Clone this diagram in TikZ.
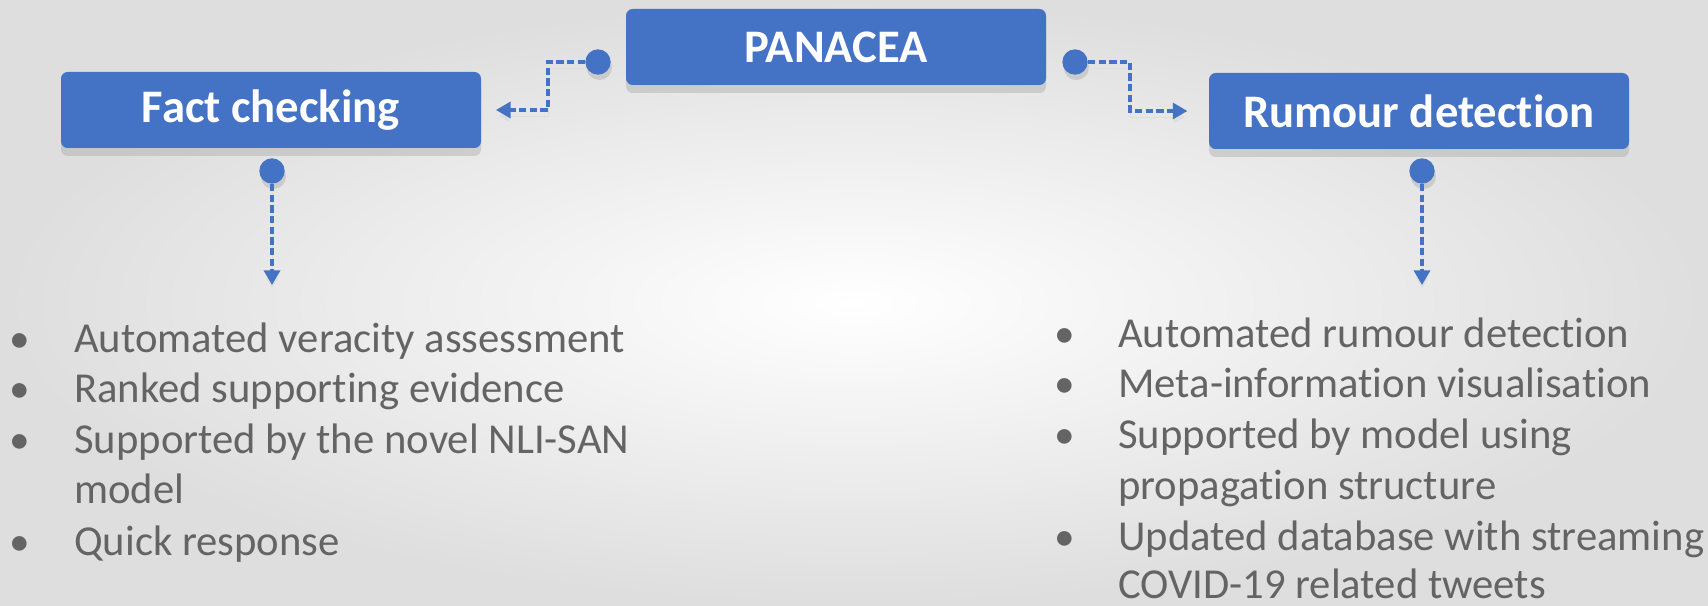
\documentclass[tikz,border=0pt]{standalone}
\usepackage{fontspec}
\setmainfont{Carlito}[Ligatures=NoCommon]
\usetikzlibrary{arrows.meta,shadows}
\definecolor{boxblue}{HTML}{4472C4}
\definecolor{txtgrey}{HTML}{646464}

\begin{document}
\begin{tikzpicture}[x=0.75pt,y=-0.75pt,
  box/.style={fill=boxblue,rounded corners=5pt,minimum width=315pt,minimum height=57pt,inner sep=0pt,
    text=white,font=\bfseries\fontsize{35}{40}\selectfont,
    drop shadow={shadow xshift=0pt,shadow yshift=-6pt,fill=black!30,opacity=.5}},
  dot/.style={circle,fill=boxblue,inner sep=0pt,minimum size=19pt,
    drop shadow={shadow xshift=1pt,shadow yshift=-4pt,fill=black!30,opacity=.5}},
  link/.style={draw=boxblue,line width=2.6pt,dash pattern=on 5.5pt off 2.5pt,
    -{Triangle[length=11pt,width=12pt]},
    preaction={draw=black!13,transform canvas={yshift=-4.5pt}}},
  item/.style={anchor=base west,text=txtgrey,inner sep=0pt,font=\fontsize{32}{38}\selectfont},
  bul/.style={anchor=base,text=txtgrey,inner sep=0pt,font=\fontsize{31}{36}\selectfont}]

\useasboundingbox (0,0) rectangle (1708,606);
\fill[inner color=white,outer color=black!13] (0,0) rectangle (1708,606);

  \node[box] (pan) at (836,47) {PANACEA};
  \node[box] (fact) at (271,110) {Fact checking};
  \node[box] (rum) at (1419,111) {Rumour detection};
  \node[dot] (pl) at (598,62) {};
  \node[dot] (pr) at (1075,62) {};
  \node[dot] (fd) at (272,171) {};
  \node[dot] (rd) at (1422,171) {};
  \coordinate (lk) at (548,62);
  \coordinate (rk) at (1130,62);
  \coordinate (fe) at (272,285);
  \coordinate (re) at (1422,285);
  \draw[link,shorten >=11pt] (pl) -- (lk) |- (fact.east);
  \draw[link,shorten >=16pt] (pr) -- (rk) |- (rum.west);
  \draw[link] (fd) -- (fe);
  \draw[link] (rd) -- (re);

  % fact checking list
  \node[bul] (fb1) at (20,352) {•};
  \node[item] (ft1) at (74,352) {Automated veracity assessment};
  \node[bul] (fb2) at (20,402) {•};
  \node[item] (ft2) at (74,402) {Ranked supporting evidence};
  \node[bul] (fb3) at (20,453) {•};
  \node[item] (ft3) at (74,453) {Supported by the novel NLI-SAN};
  \node[item] (ft4) at (74,503) {model};
  \node[bul] (fb5) at (20,555) {•};
  \node[item] (ft5) at (74,555) {Quick response};

  % rumour detection list
  \node[bul] (rb1) at (1065,347) {•};
  \node[item] (rt1) at (1118,347) {Automated rumour detection};
  \node[bul] (rb2) at (1065,397) {•};
  \node[item] (rt2) at (1118,397) {Meta-information visualisation};
  \node[bul] (rb3) at (1065,448) {•};
  \node[item] (rt3) at (1118,448) {Supported by model using};
  \node[item] (rt4) at (1118,499) {propagation structure};
  \node[bul] (rb5) at (1065,550) {•};
  \node[item] (rt5) at (1118,550) {Updated database with streaming};
  \node[item] (rt6) at (1118,598) {COVID-19 related tweets};
 \end{tikzpicture}
\end{document}
